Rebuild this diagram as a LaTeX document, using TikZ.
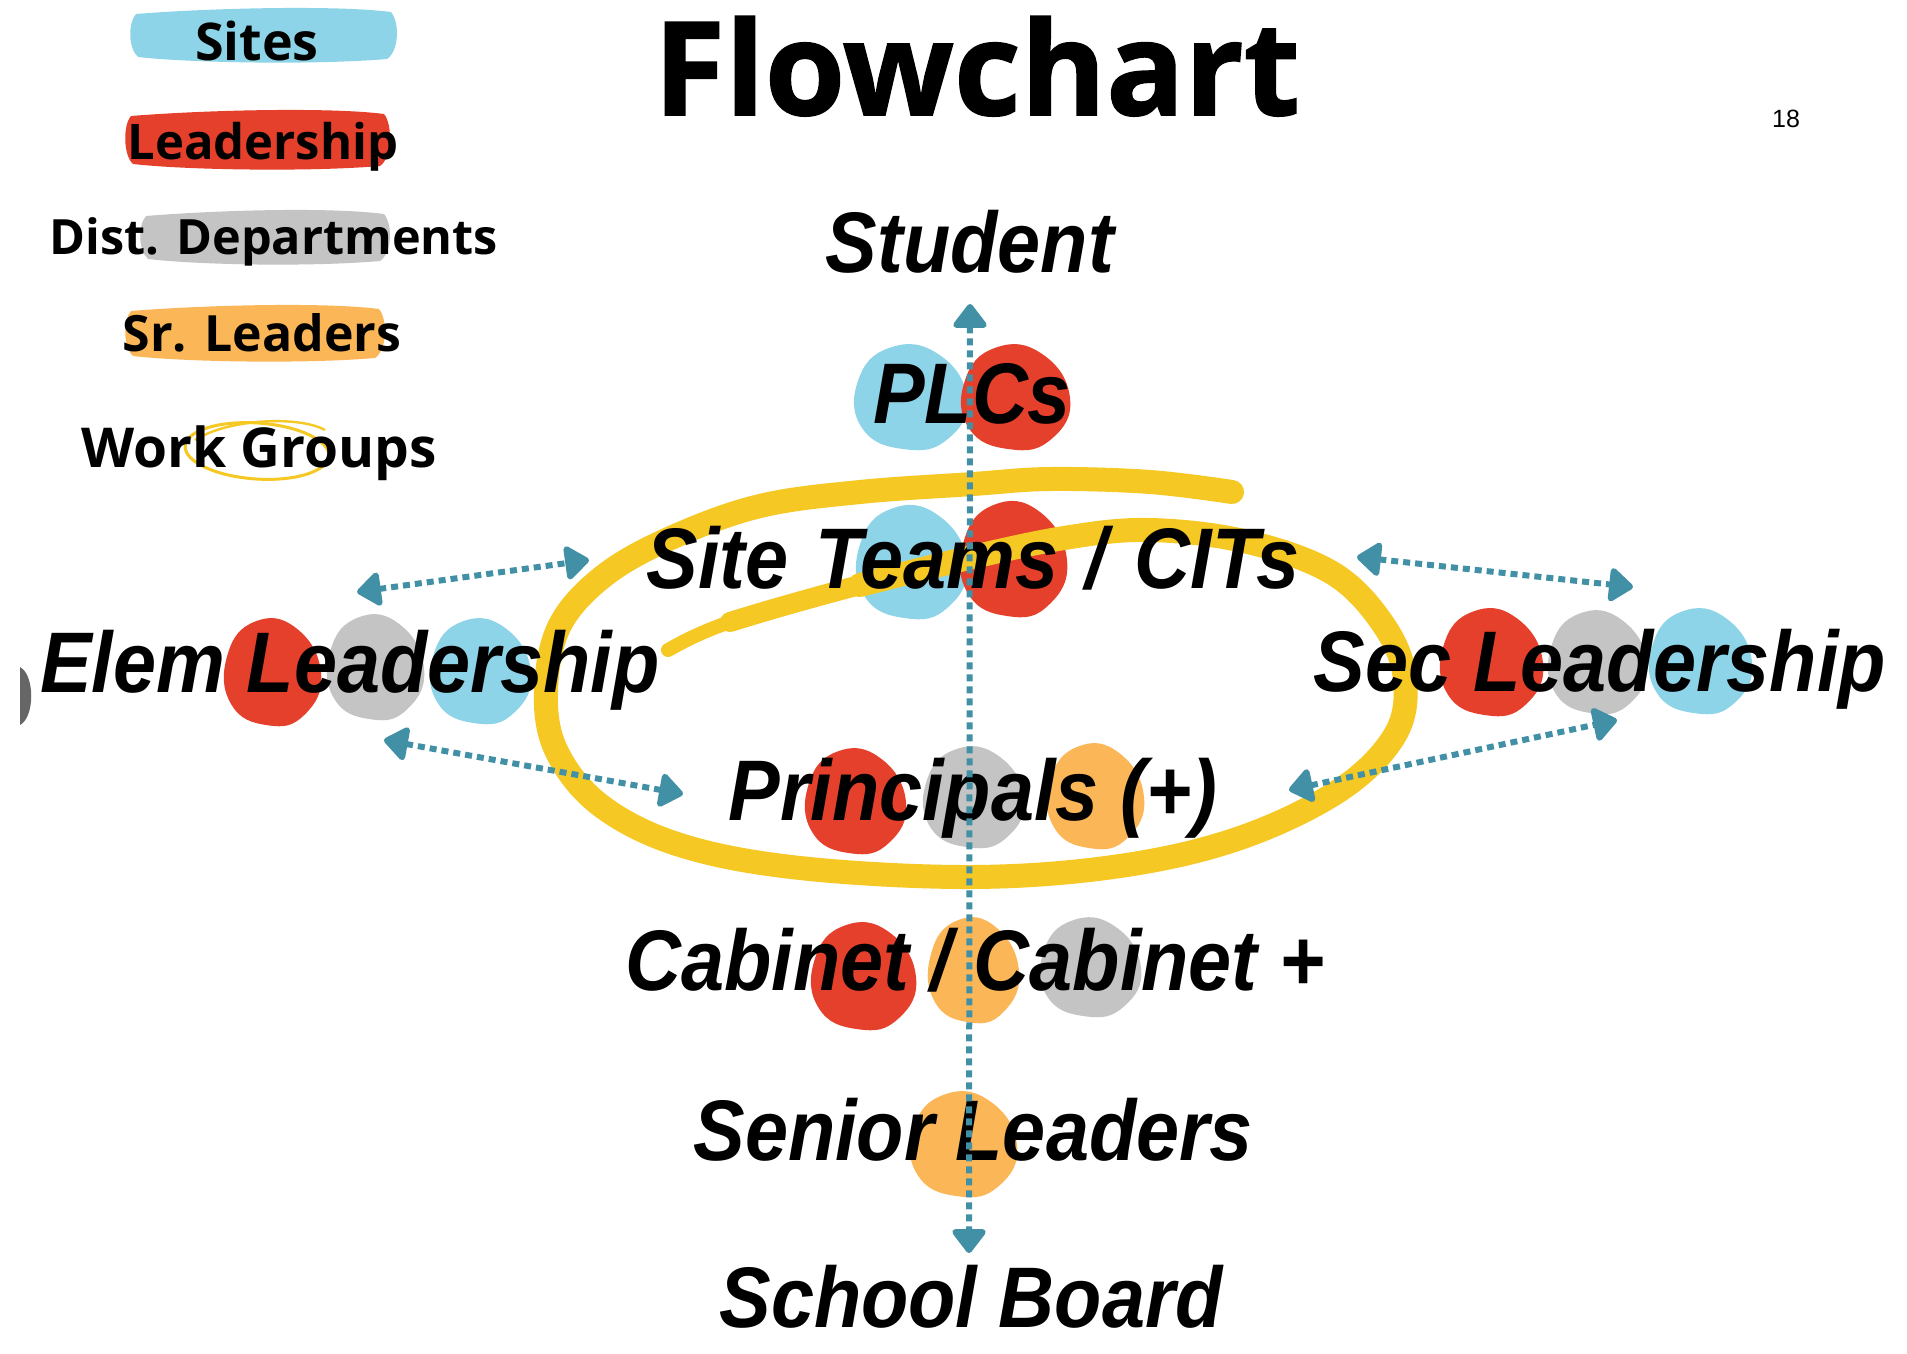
\documentclass[tikz,border=0pt]{standalone}
\usepackage{fontspec}
\usetikzlibrary{arrows.meta}
\newfontfamily\lblfont{Liberation Sans}[FakeStretch=0.9]
\newfontfamily\osfont{Open Sans}
\newfontfamily\titlefont{Open Sans}[BoldFeatures={FakeBold=1.2}]
\newfontfamily\pgfont{Liberation Sans}
\definecolor{cblue}{HTML}{8ED4E8}
\definecolor{cred}{HTML}{E5402B}
\definecolor{cgrey}{HTML}{C4C4C4}
\definecolor{corange}{HTML}{FBB757}
\definecolor{cyellow}{HTML}{F6C823}
\definecolor{cteal}{HTML}{4290A6}
\definecolor{cdark}{HTML}{666666}
\newcommand\brush[5]{\fill[#5] ({#1+6},{#2+6}) .. controls ({#1+80},{#2}) and ({#3-60},{#2-3}) .. ({#3-6},{#2+4}) .. controls ({#3+3},{#2+15}) and ({#3+2},{#4-12}) .. ({#3-10},{#4-4}) .. controls ({#3-80},{#4+2}) and ({#1+60},{#4}) .. ({#1+8},{#4-6}) .. controls ({#1-2},{#4-15}) and ({#1-2},{#2+15}) .. ({#1+6},{#2+6}) -- cycle;}
\newcommand\myblob[5]{\begin{scope}[shift={(#1,#2)},xscale=#3,yscale=#4]
\fill[#5] plot[smooth cycle,tension=0.8] coordinates {(0:1) (50:1.03) (95:0.99) (145:1.02) (200:0.97) (250:1.03) (300:0.98)};
\end{scope}}
\tikzset{
 lbl/.style={font=\lblfont\bfseries\itshape\fontsize{43}{50}\selectfont, anchor=base, inner sep=0pt},
 leg/.style={font=\osfont\bfseries\fontsize{#1}{30}\selectfont, anchor=base, inner sep=0pt},
 link/.style={draw=cteal, line width=3pt, dash pattern=on 3.5pt off 2.5pt, {Triangle[length=13pt,width=19pt,round]}-{Triangle[length=13pt,width=19pt,round]}},
 spiral/.style={draw=cyellow, line width=12pt, line cap=round, line join=round}
}
\begin{document}
\begin{tikzpicture}[x=0.5pt,y=-0.5pt]
\fill[white] (0,0) rectangle (1907,1354);
\useasboundingbox (0,0) rectangle (1907,1354);
% legend
\brush{130}{8}{397}{63}{cblue}
\brush{125}{110}{390}{170}{cred}
\brush{140}{210}{390}{265}{cgrey}
\brush{125}{305}{385}{362}{corange}
\draw[cyellow, line width=1.5pt, rotate around={-4:(257,451)}] (257,451) ellipse [x radius=72, y radius=28];
\draw[cyellow, line width=1.2pt] (195,440) .. controls (230,418) and (300,416) .. (325,430);
\node[leg=26] (lsites) at (257,61) {Sites};
\node[leg=24.5] (llead) at (263,160) {Leadership};
\node[leg=24.3] (ldist) at (274,254) {Dist. Departments};
\node[leg=25] (lsr) at (262,351) {Sr. Leaders};
\node[leg=27.5] (lwork) at (259,467) {Work Groups};
% title and page number
\node[font=\titlefont\bfseries\fontsize{65}{70}\selectfont, anchor=base, inner sep=0pt] (title) at (977,115) {Flowchart};
\node[font=\pgfont\fontsize{12.5}{14}\selectfont, inner sep=0pt] (pnum) at (1786,119) {18};
% left edge fragment
\fill[cdark] (20,667) .. controls (35,675) and (35,717) .. (20,725) -- cycle;
% blobs under spiral
\myblob{911}{563}{56}{56}{cblue}
\myblob{1013}{560}{54}{57}{cred}
% spiral
\draw[spiral] plot[smooth, tension=0.6] coordinates {(1232,492) (1150,482) (1050,479) (973,484) (860,492) (760,506) (673,537) (605,575) (560,625) (546,690) (556,750) (600,805) (680,845) (800,868) (973,877) (1120,866) (1240,838) (1340,790) (1395,735) (1405,680) (1385,627) (1334,574) (1248,542) (1150,530) (1064,538) (960,560) (860,585)};
\draw[spiral, line width=10pt] plot[smooth, tension=0.6] coordinates {(960,560) (860,585) (780,607) (730,622)};
\draw[spiral, line width=7pt] plot[smooth, tension=0.6] coordinates {(780,607) (730,622) (695,636) (668,650)};
% blobs
\myblob{910}{398}{57}{52}{cblue}
\myblob{1015}{398}{55}{52}{cred}
\myblob{272}{673}{49}{53}{cred}
\myblob{375}{668}{49}{52}{cgrey}
\myblob{480}{672}{51}{52}{cblue}
\myblob{1491}{663}{52}{53}{cred}
\myblob{1597}{663}{50}{51}{cgrey}
\myblob{1700}{662}{52}{52}{cblue}
\myblob{855}{802}{51}{52}{cred}
\myblob{973}{798}{51}{50}{cgrey}
\myblob{1095}{797}{49}{52}{corange}
\myblob{863}{977}{53}{53}{cred}
\myblob{973}{971}{46}{52}{corange}
\myblob{1090}{968}{51}{49}{cgrey}
\myblob{963}{1145}{54}{52}{corange}
% labels
\node[lbl] (student) at (970,272) {Student};
\node[lbl] (plcs) at (972,423) {PLCs};
\node[lbl] (site) at (973,588) {Site\hspace{3pt} Teams\hspace{3pt} /\hspace{3pt} CITs};
\node[lbl] (elem) at (350,692) {Elem Leadership};
\node[lbl] (sec) at (1600,691) {Sec Leadership};
\node[lbl] (prin) at (973,820) {Principals (+)};
\node[lbl] (cab) at (975,990) {Cabinet / Cabinet +};
\node[lbl] (senior) at (973,1160) {Senior Leaders};
\node[lbl] (board) at (971,1327) {School Board};
% connectors
\coordinate (vTop) at (970,304);
\coordinate (vBot) at (969,1253);
\coordinate (eTL) at (357,592);
\coordinate (eTR) at (589,560);
\coordinate (eBL) at (384,740);
\coordinate (eBR) at (683,794);
\coordinate (sTL) at (1357,557);
\coordinate (sTR) at (1633,587);
\coordinate (sBL) at (1289,790);
\coordinate (sBR) at (1617,720);
\draw[link] (vTop) -- (vBot);
\draw[link] (eTL) -- (eTR);
\draw[link] (eBL) -- (eBR);
\draw[link] (sTL) -- (sTR);
\draw[link] (sBL) -- (sBR);
\end{tikzpicture}
\end{document}
